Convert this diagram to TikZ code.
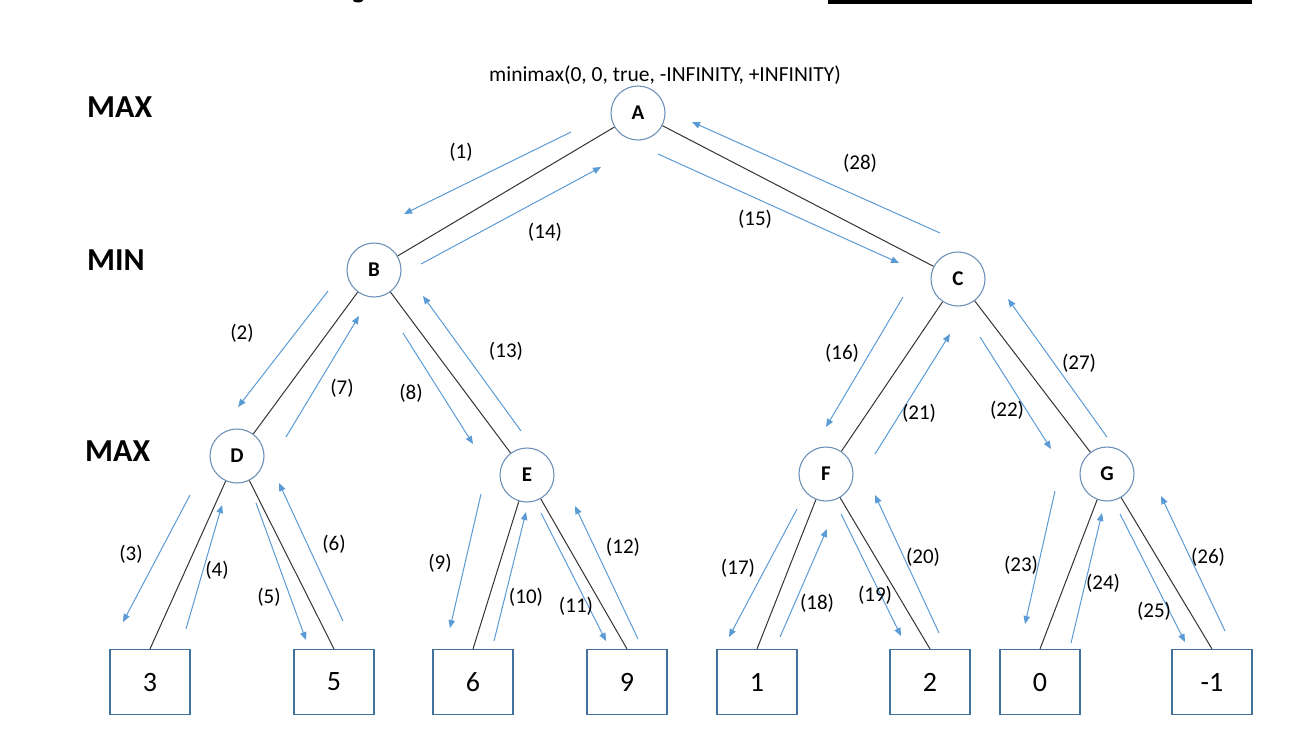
\documentclass[tikz,border=0pt]{standalone}
\usepackage{fontspec}
\setmainfont{Carlito}
\usetikzlibrary{arrows.meta}
\definecolor{flowblue}{RGB}{91,155,213}
\definecolor{nodeblue}{RGB}{110,145,185}
\definecolor{boxblue}{RGB}{65,113,156}
\tikzset{
  state/.style={circle, draw=nodeblue, line width=1.1pt, fill=white, minimum size=54pt, inner sep=0pt,
    font=\fontsize{21}{24}\selectfont\bfseries},
  leaf/.style={rectangle, draw=boxblue, line width=1.1pt, fill=white, minimum width=80pt, minimum height=65pt, inner sep=0pt,
    font=\fontsize{28}{32}\selectfont},
  edge/.style={draw=black!80, line width=1pt},
  flow/.style={draw=flowblue, line width=1pt, -{Triangle[length=8pt,width=6.5pt]}},
  lbl/.style={inner sep=0pt, font=\fontsize{21}{24}\selectfont},
  level/.style={anchor=west, inner sep=0pt, font=\fontsize{32}{36}\selectfont\bfseries},
}
\newcommand\flowarr[4]{%
  \coordinate (fs#1) at (#2);
  \coordinate (fe#1) at (#3);
  \draw[flow] (fs#1) -- (fe#1);
  \node[lbl] (fl#1) at (#4) {(#1)};
}
\begin{document}
\begin{tikzpicture}[x=1pt,y=-1pt]
\useasboundingbox (0,0) rectangle (1316,748);
% cut-off fragments at the top edge
\fill[black] (828,0) rectangle (1252,3.5);
\fill[black] (358,0.5) ellipse [x radius=5, y radius=2];

% level labels
\node[level] (max1) at (87,107.5) {MAX};
\node[level] (min1) at (87,260) {MIN};
\node[level] (max2) at (85,451) {MAX};

% call label
\node[lbl, font=\fontsize{21.5}{24}\selectfont] (call) at (665,75) {minimax(0, 0, true, -INFINITY, +INFINITY)};

% leaves
\node[leaf] (l3) at (150,682) {3};
\node[leaf] (l5) at (334,682) {5};
\node[leaf] (l6) at (473,682) {6};
\node[leaf] (l9) at (627,682) {9};
\node[leaf] (l1) at (757,682) {1};
\node[leaf] (l2) at (930,682) {2};
\node[leaf] (l0) at (1040,682) {0};
\node[leaf] (lm1) at (1212,682) {-1};

% internal nodes
\node[state] (A) at (638,113) {A};
\node[state] (B) at (374,270) {B};
\node[state] (C) at (958,279) {C};
\node[state] (D) at (237,456) {D};
\node[state] (E) at (527,475) {E};
\node[state] (F) at (826,474) {F};
\node[state] (G) at (1107,474) {G};

% tree edges
\draw[edge] (A) -- (B);
\draw[edge] (A) -- (C);
\draw[edge] (B) -- (D);
\draw[edge] (B) -- (E);
\draw[edge] (C) -- (F);
\draw[edge] (C) -- (G);
\draw[edge] (D) -- (l3.north);
\draw[edge] (D) -- (l5.north);
\draw[edge] (E) -- (l6.north);
\draw[edge] (E) -- (l9.north);
\draw[edge] (F) -- (l1.north);
\draw[edge] (F) -- (l2.north);
\draw[edge] (G) -- (l0.north);
\draw[edge] (G) -- (lm1.north);

% traversal arrows
\flowarr{1}{571,132}{404,214}{461,152}
\flowarr{2}{328,291}{238,407}{242,333}
\flowarr{3}{190,495}{123,622}{131,554}
\flowarr{4}{186,629}{222,505}{217,570}
\flowarr{5}{256,503}{306,640}{269,597}
\flowarr{6}{343,621}{279,483}{334,544}
\flowarr{7}{286,437}{359,316}{342,388}
\flowarr{8}{403,333}{473,444}{411,393}
\flowarr{9}{481,494}{450,628}{440,563}
\flowarr{10}{494,641}{526,512}{526,597}
\flowarr{11}{541,513}{606,641}{576,606}
\flowarr{12}{638,639}{575,506}{623,547}
\flowarr{13}{521,431}{423,296}{506,351}
\flowarr{14}{421,264}{601,167}{545,232}
\flowarr{15}{658,154}{899,263}{755,219}
\flowarr{16}{903,297}{826,427}{842,353}
\flowarr{17}{797,509}{729,637}{738,568}
\flowarr{18}{780,637}{827,529}{817,603}
\flowarr{19}{841,514}{901,636}{875,595}
\flowarr{20}{939,633}{875,495}{923,557}
\flowarr{21}{875,454}{950,334}{919,413}
\flowarr{22}{980,337}{1051,449}{1007,410}
\flowarr{23}{1055,491}{1025,624}{1021,565}
\flowarr{24}{1071,643}{1102,513}{1103,583}
\flowarr{25}{1120,514}{1185,642}{1154,611}
\flowarr{26}{1225,631}{1161,496}{1208,557}
\flowarr{27}{1107,437}{1008,299}{1079,363}
\flowarr{28}{940,233}{692,122}{860,163}
\end{tikzpicture}
\end{document}
